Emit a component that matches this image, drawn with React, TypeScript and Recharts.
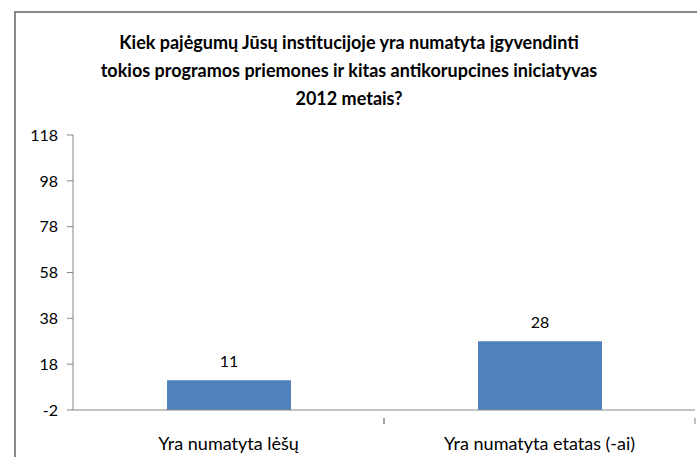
import { BarChart, Bar, XAxis, YAxis, LabelList } from 'recharts';

const categories = ['Yra numatyta lėšų', 'Yra numatyta etatas (-ai)'];
const values = [11, 28];
const yTicks = [-2, 18, 38, 58, 78, 98, 118];
const axisMin = -2;
const axisMax = 118;

const titleLines = [
  'Kiek pajėgumų Jūsų institucijoje yra numatyta įgyvendinti',
  'tokios programos priemones ir kitas antikorupcines iniciatyvas',
  '2012 metais?',
];

const FONT = 'Lato, "Liberation Sans", sans-serif';
const AXIS = '#868686';

// bars start at the bottom of the axis (-2), like the original
const chartData = categories.map((name, i) => ({
  name,
  value: values[i],
  range: [axisMin, values[i]],
}));

function CategoryTick(props: any) {
  const { x, y, payload, index } = props;
  const off = payload.offset || 0;
  return (
    <g>
      {index > 0 && <line x1={x - off} y1={y} x2={x - off} y2={y + 6} stroke={AXIS} />}
      <line x1={x + off} y1={y} x2={x + off} y2={y + 6} stroke={AXIS} />
      <text x={x} y={y + 32} textAnchor="middle" fontSize={18} fill="#000" fontFamily={FONT}>
        {payload.value}
      </text>
    </g>
  );
}

export default function App() {
  return (
    <div style={{ position: 'absolute', left: 0, top: 0, width: 697, height: 457, background: '#fff', overflow: 'hidden' }}>
      <div
        style={{
          position: 'absolute',
          left: 14,
          top: 11,
          width: 720,
          height: 480,
          border: '2px solid #898989',
        }}
      />
      <div
        style={{
          position: 'absolute',
          left: 14,
          top: 28,
          width: 670,
          textAlign: 'center',
          fontFamily: FONT,
          fontWeight: 'bold',
          fontSize: 18,
          lineHeight: '28px',
          color: '#000',
        }}
      >
        {titleLines.map((t) => (
          <div key={t}>{t}</div>
        ))}
      </div>
      <div style={{ position: 'absolute', left: 0, top: 0 }}>
        <BarChart width={697} height={457} data={chartData} margin={{ top: 135, right: 2, left: 0, bottom: 17 }}>
          <YAxis
            type="number"
            domain={[axisMin, axisMax]}
            ticks={yTicks}
            interval={0}
            width={73}
            tickSize={6}
            tickMargin={9}
            stroke={AXIS}
            tick={{ fill: '#000', fontSize: 16, fontFamily: FONT }}
          />
          <XAxis
            dataKey="name"
            height={30}
            stroke={AXIS}
            tickLine={false}
            tick={<CategoryTick />}
            interval={0}
          />
          <Bar dataKey="range" fill="#4F81BD" barSize={124} isAnimationActive={false}>
            <LabelList dataKey="value" position="top" offset={13} fill="#000" fontSize={16} fontFamily={FONT} />
          </Bar>
        </BarChart>
      </div>
    </div>
  );
}
